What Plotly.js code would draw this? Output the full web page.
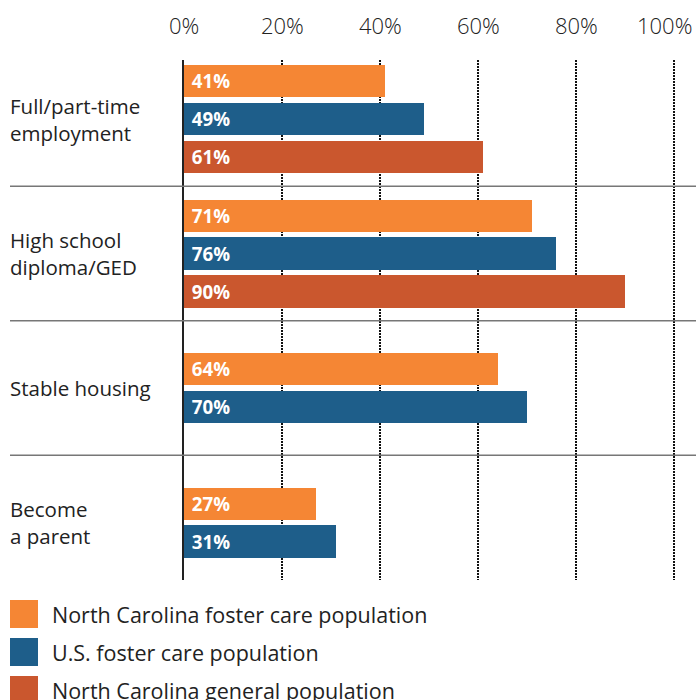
<!DOCTYPE html>
<html>
<head>
<meta charset="utf-8">
<script src="https://cdn.plot.ly/plotly-3.0.1.min.js"></script>
<style>html,body{margin:0;padding:0;background:#fff;}#chart{width:696px;height:700px;}</style>
</head>
<body>
<div id="chart"></div>
<script>
// ---- data ----
const categories = ["Full/part-time<br>employment", "High school<br>diploma/GED", "Stable housing", "Become<br>a parent"];
const ncFoster = [41, 71, 64, 27];
const usFoster = [49, 76, 70, 31];
const ncGeneral = [61, 90, null, null];
const seriesNames = ["North Carolina foster care population", "U.S. foster care population", "North Carolina general population"];
const seriesColors = ["#F58634", "#1E5E8A", "#CA572E"];
const xTickVals = [0, 20, 40, 60, 80, 100];
const xTickText = ["0%", "20%", "40%", "60%", "80%", "100%"];

// ---- layout geometry ----
const W = 696, H = 700;
const plotL = 184, plotT = 60, plotH = 520;
const plotW = 494;
const xMax = plotW / 4.9;   // 98 px per 20 %
const margin = {l: plotL, r: W - plotL - plotW, t: plotT, b: H - plotT - plotH};
const px2x = px => (px - plotL) / plotW;
const py2y = py => (plotT + plotH - py) / plotH;
const FONT = "Open Sans, Noto Sans, sans-serif";
const TXT = "#222222";

const allSeries = [ncFoster, usFoster, ncGeneral];
const slot = 0.2825, barW = 0.238;

// compute y positions so groups with fewer series are centred
const traces = allSeries.map((vals, s) => {
  const ys = [], xs = [], txt = [];
  vals.forEach((v, i) => {
    if (v === null) return;
    const present = allSeries.map(a => a[i]).filter(x => x !== null).length;
    const k = allSeries.slice(0, s).filter(a => a[i] !== null).length;
    ys.push(i + (k - (present - 1) / 2) * slot);
    xs.push(v);
    txt.push("\u00A0" + v + "%");
  });
  return {
    type: "bar", orientation: "h", x: xs, y: ys, width: barW,
    name: seriesNames[s],
    marker: {color: seriesColors[s], line: {width: 0}},
    text: txt, textposition: "inside", insidetextanchor: "start",
    textfont: {family: FONT, size: 23, color: "#ffffff", weight: 700},
    hoverinfo: "skip", showlegend: false
  };
});

const shapes = [];
for (let i = 0; i < categories.length - 1; i++) {
  shapes.push({type: "line", xref: "paper", yref: "y", x0: px2x(10), x1: px2x(696), y0: i + 0.5, y1: i + 0.5,
    line: {color: "#777777", width: 1.5}, layer: "above"});
}
const annotations = categories.map((c, i) => ({
  xref: "paper", yref: "y", x: px2x(8), y: i, xanchor: "left", yanchor: "middle", align: "left",
  text: c, showarrow: false, font: {family: FONT, size: 20.5, color: TXT}
}));
// top tick labels (last one kept inside the picture, as in the reference)
xTickVals.forEach((v, idx) => {
  const last = idx === xTickVals.length - 1;
  const pxPos = plotL + v / xMax * plotW;
  annotations.push({
    xref: "x", yref: "paper", x: v, y: py2y(24.5), yanchor: "middle",
    xanchor: last ? "right" : "center", xshift: last ? (W - 2 - pxPos) : 0,
    text: xTickText[idx], showarrow: false, font: {family: FONT, size: 22, color: TXT, weight: 300}
  });
});
seriesNames.forEach((n, s) => {
  const top = 600 + s * 38;
  shapes.push({type: "rect", xref: "paper", yref: "paper", x0: px2x(10), x1: px2x(38), y0: py2y(top), y1: py2y(top + 28),
    fillcolor: seriesColors[s], line: {width: 0}});
  annotations.push({xref: "paper", yref: "paper", x: px2x(50), y: py2y(top + 14), xanchor: "left", yanchor: "middle",
    text: n, showarrow: false, font: {family: FONT, size: 21.5, color: TXT}});
});

const layout = {
  width: W, height: H, margin: margin,
  paper_bgcolor: "#ffffff", plot_bgcolor: "#ffffff",
  showlegend: false, bargap: 0,
  xaxis: {
    side: "top", range: [0, xMax], tickvals: xTickVals, ticktext: xTickText,
    showticklabels: false, ticks: "",
    showgrid: true, gridcolor: "#111111", gridwidth: 1.2, griddash: "1.5px,1.5px",
    zeroline: false, showline: false, fixedrange: true
  },
  yaxis: {
    range: [(580 - 119) / 134.5, (60 - 119) / 134.5],
    showticklabels: false, showgrid: false, zeroline: false,
    showline: true, linecolor: "#222222", linewidth: 2, ticks: "", fixedrange: true
  },
  shapes: shapes, annotations: annotations
};

Plotly.newPlot("chart", traces, layout, {displayModeBar: false, staticPlot: true});
</script>
</body>
</html>
